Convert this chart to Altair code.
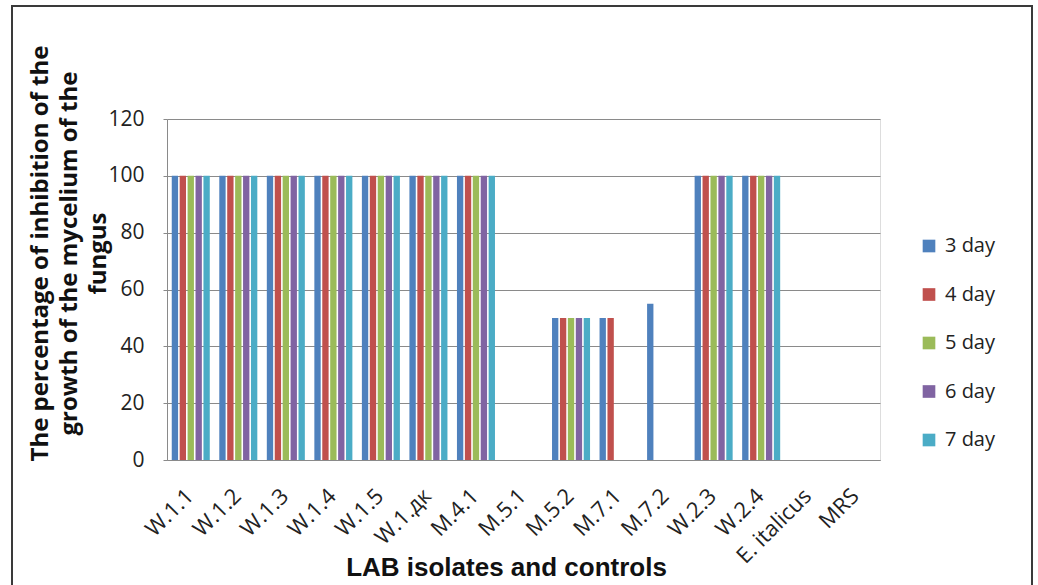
import altair as alt
import pandas as pd

# Isolates / controls along the x axis
isolates = ["W.1.1", "W.1.2", "W.1.3", "W.1.4", "W.1.5", "W.1.дк", "M.4.1",
            "M.5.1", "M.5.2", "M.7.1", "M.7.2", "W.2.3", "W.2.4",
            "E. italicus", "MRS"]
days = ["3 day", "4 day", "5 day", "6 day", "7 day"]

# Inhibition (%) per isolate, one list per day of incubation
day3 = [100, 100, 100, 100, 100, 100, 100, 0, 50, 50, 55, 100, 100, 0, 0]
day4 = [100, 100, 100, 100, 100, 100, 100, 0, 50, 50, 0, 100, 100, 0, 0]
day5 = [100, 100, 100, 100, 100, 100, 100, 0, 50, 0, 0, 100, 100, 0, 0]
day6 = [100, 100, 100, 100, 100, 100, 100, 0, 50, 0, 0, 100, 100, 0, 0]
day7 = [100, 100, 100, 100, 100, 100, 100, 0, 50, 0, 0, 100, 100, 0, 0]

colors = ["#4F81BD", "#C0504D", "#9BBB59", "#8064A2", "#4BACC6"]

rows = []
for d, vals in zip(days, [day3, day4, day5, day6, day7]):
    for iso, v in zip(isolates, vals):
        rows.append({"isolate": iso, "day": d, "value": v})
df = pd.DataFrame(rows)

FONT = "Open Sans"

bars = alt.Chart(df).mark_bar().encode(
    x=alt.X("isolate:N", sort=isolates,
            scale=alt.Scale(paddingInner=0.2, paddingOuter=0.1),
            axis=alt.Axis(title="LAB isolates and controls",
                          labelAngle=-45, labelAlign="right", labelBaseline="top",
                          labelFontSize=22, labelPadding=25, labelOffset=-8,
                          labelColor="#222", labelFont=FONT, ticks=False,
                          domainColor="#8a8a8a",
                          titleFont="Liberation Sans", titleFontSize=26,
                          titleFontWeight="bold",
                          titleColor="#111", titleX=339, titleY=107,
                          titleBaseline="middle", titleAnchor="start", titleAlign="center")),
    xOffset=alt.XOffset("day:N", sort=days, scale=alt.Scale(paddingInner=0.2)),
    y=alt.Y("value:Q", scale=alt.Scale(domain=[0, 120]),
            axis=alt.Axis(values=[0, 20, 40, 60, 80, 100, 120],
                          title=["The percentage of inhibition  of the",
                                 "growth of the mycelium  of the", "fungus"],
                          labelFontSize=21, labelFont=FONT, labelColor="#222",
                          labelPadding=19, tickSize=4, tickColor="#8a8a8a",
                          domainColor="#8a8a8a", gridColor="#8a8a8a",
                          titleFont=FONT, titleFontSize=24, titleFontWeight="bold",
                          titleColor="#111", titleLineHeight=29,
                          titleX=-127, titleY=134, titleAngle=-90,
                          titleBaseline="middle", titleAlign="center")),
    color=alt.Color("day:N", sort=days,
                    scale=alt.Scale(domain=days, range=colors),
                    legend=alt.Legend(title=None, orient="none", legendX=752, legendY=117,
                                      symbolType="square", symbolSize=160,
                                      symbolStrokeWidth=0, labelFontSize=20,
                                      labelFont=FONT, labelColor="#222",
                                      rowPadding=28.5, labelOffset=6)),
)

# Frame around the whole figure
frame = alt.Chart(pd.DataFrame({"k": [0]})).mark_rect(
    fill=None, stroke="#3a3a3a", strokeWidth=2
).encode(
    x=alt.value(-155), x2=alt.value(865),
    y=alt.value(-113), y2=alt.value(520),
)

chart = alt.layer(frame, bars).properties(
    width=713, height=341,
    autosize=alt.AutoSizeParams(type="none"),
    padding={"left": 167, "top": 119, "right": 158, "bottom": 125},
).configure_view(stroke=None).configure(background="white")

chart.save("out.html", embed_options={"renderer": "svg", "actions": False})
